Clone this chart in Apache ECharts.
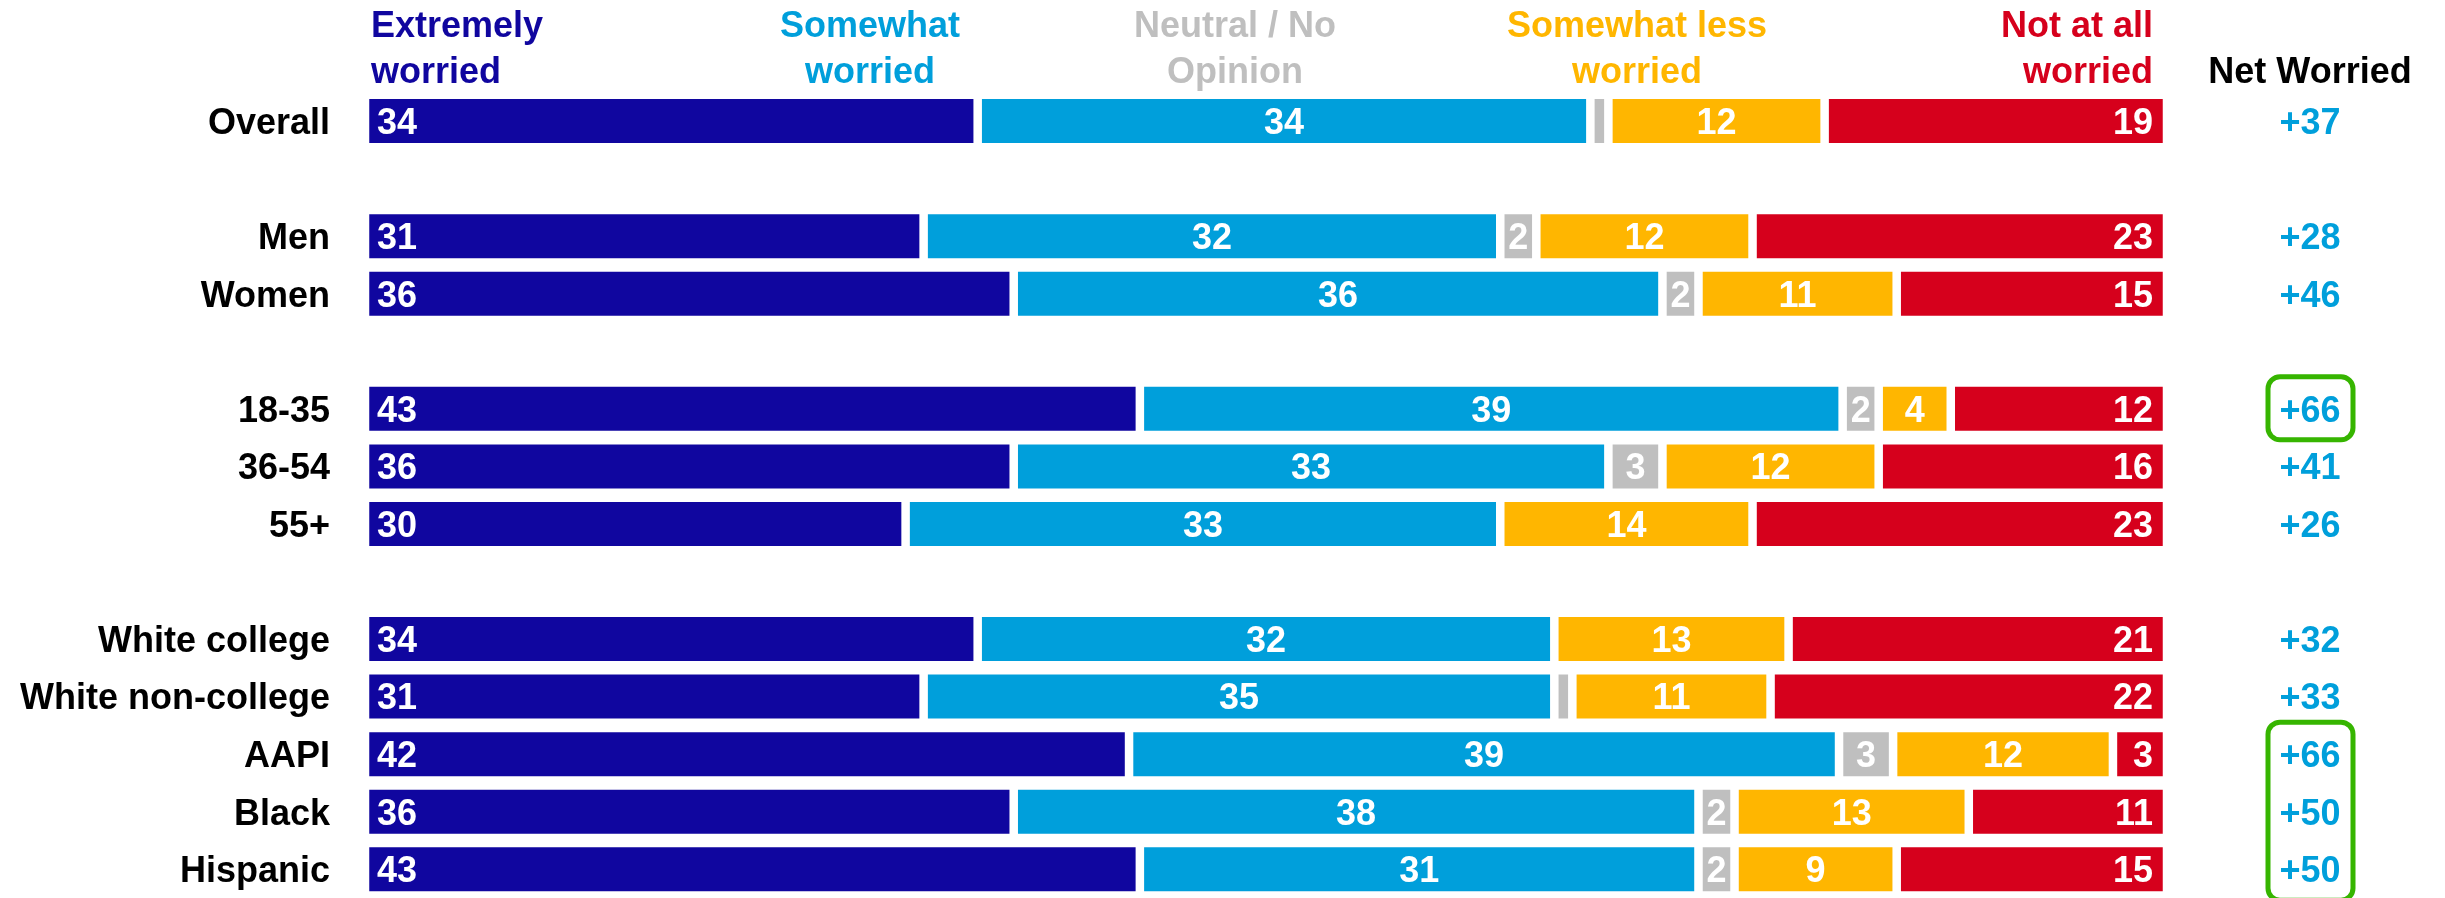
<!DOCTYPE html>
<html>
<head>
<meta charset="utf-8">
<script src="https://cdn.jsdelivr.net/npm/echarts@6/dist/echarts.min.js"></script>
<style>
html,body{margin:0;padding:0;background:#fff;}
#chart{width:2445px;height:898px;}
</style>
</head>
<body>
<div id="chart"></div>
<script>
// ---- data ----
const categories = ['Overall', ' ', 'Men', 'Women', '  ', '18-35', '36-54', '55+', '   ',
  'White college', 'White non-college', 'AAPI', 'Black', 'Hispanic'];
const extremelyWorried = [34, '-', 31, 36, '-', 43, 36, 30, '-', 34, 31, 42.4, 36, 43];
const somewhatWorried  = [34, '-', 32, 36, '-', 39, 33, 33, '-', 32, 35, 39.4, 38, 31];
const neutralNoOpinion = [1, '-', 2, 2, '-', 2, 3, 0, '-', 0, 1, 3, 2, 2];
const somewhatLess     = [12, '-', 12, 11, '-', 4, 12, 14, '-', 13, 11, 12.2, 13, 9];
const notAtAll         = [19, '-', 23, 15, '-', 12, 16, 23, '-', 21, 22, 3, 11, 15];
const netWorried       = ['+37', '', '+28', '+46', '', '+66', '+41', '+26', '', '+32', '+33', '+66', '+50', '+50'];
const seriesNames = ['Extremely worried', 'Somewhat worried', 'Neutral / No Opinion', 'Somewhat less worried', 'Not at all worried'];
const headerLines = ['Extremely\nworried', 'Somewhat\nworried', 'Neutral / No\nOpinion', 'Somewhat less\nworried', 'Not at all\nworried'];
const highlightGroups = [['18-35', '18-35'], ['AAPI', 'Hispanic']];

// ---- style ----
const FONT = "'Liberation Sans', Arial, Helvetica, sans-serif";
const colors = ['#10069F', '#009FDB', '#BFBFBF', '#FFB600', '#D6001C'];
const NET_COLOR = '#009FDB';
const GREEN = '#36B500';
const GRID_LEFT = 365, GRID_RIGHT = 278, GRID_TOP = 92.3, GRID_H = 812;
const NET_X = 2310;
const TEXT_DY = 3;

const chart = echarts.init(document.getElementById('chart'), null, {renderer: 'canvas'});

function labelFor(pos, dist) {
  return {
    show: true, position: pos, distance: dist, offset: [0, TEXT_DY],
    color: '#fff', fontFamily: FONT, fontWeight: 'bold', fontSize: 36,
    formatter: p => (typeof p.value === 'number' && p.value >= 2) ? String(Math.round(p.value)) : ''
  };
}
const labelPos = [['insideLeft', 12], ['inside', 0], ['inside', 0], ['inside', 0], ['insideRight', 14]];
const dataSets = [extremelyWorried, somewhatWorried, neutralNoOpinion, somewhatLess, notAtAll];

const series = dataSets.map((d, i) => ({
  name: seriesNames[i],
  type: 'bar',
  stack: 'total',
  barWidth: 52.5,
  data: d,
  itemStyle: {color: colors[i], borderColor: '#fff', borderWidth: 4.25},
  label: labelFor(labelPos[i][0], labelPos[i][1]),
  emphasis: {disabled: true},
  silent: true
}));

const gridW = 2445 - GRID_LEFT - GRID_RIGHT;
const headerX = [GRID_LEFT + 6, 870, 1235, 1637, GRID_LEFT + gridW - 14];
const headerAlign = ['left', 'center', 'center', 'center', 'right'];

const headerGraphics = headerLines.map((t, i) => ({
  type: 'text', silent: true,
  x: headerX[i], y: 4,
  style: {
    text: t, fill: colors[i], font: 'bold 36px ' + FONT,
    textAlign: headerAlign[i], textVerticalAlign: 'top', lineHeight: 46
  }
}));
headerGraphics.push({
  type: 'text', silent: true, x: NET_X, y: 50,
  style: {text: 'Net Worried', fill: '#000', font: 'bold 36px ' + FONT,
    textAlign: 'center', textVerticalAlign: 'top', lineHeight: 46}
});

function shiftedLabel(color, extra) {
  return Object.assign({
    color: color, fontFamily: FONT, fontWeight: 'bold', fontSize: 36,
    formatter: v => v.trim() ? '{a|' + v + '}' : '',
    rich: {a: {color: color, fontFamily: FONT, fontWeight: 'bold', fontSize: 36,
      padding: [TEXT_DY * 2, 0, 0, 0]}}
  }, extra);
}

chart.setOption({
  animation: false,
  backgroundColor: '#fff',
  grid: {left: GRID_LEFT, right: GRID_RIGHT, top: GRID_TOP, height: GRID_H, containLabel: false},
  xAxis: {type: 'value', min: 0, max: 100, show: false},
  yAxis: [{
    type: 'category', data: categories, inverse: true,
    axisLine: {show: false}, axisTick: {show: false}, splitLine: {show: false},
    axisLabel: shiftedLabel('#000', {margin: 35})
  }, {
    type: 'category', data: netWorried, inverse: true, position: 'right',
    axisLine: {show: false}, axisTick: {show: false}, splitLine: {show: false},
    axisLabel: shiftedLabel(NET_COLOR, {align: 'center', margin: NET_X - (GRID_LEFT + gridW)})
  }],
  series: series,
  graphic: headerGraphics
});

// highlight boxes around net values, positioned from the category scale
const boxes = highlightGroups.map(g => {
  const y0 = chart.convertToPixel({yAxisIndex: 0}, g[0]);
  const y1 = chart.convertToPixel({yAxisIndex: 0}, g[1]);
  const top = y0 - 32, bottom = y1 + 31;
  return {
    type: 'rect', silent: true,
    shape: {x: NET_X - 42, y: top, width: 85, height: bottom - top, r: 12},
    style: {fill: 'none', stroke: GREEN, lineWidth: 5}
  };
});
chart.setOption({graphic: headerGraphics.concat(boxes)});
</script>
</body>
</html>
